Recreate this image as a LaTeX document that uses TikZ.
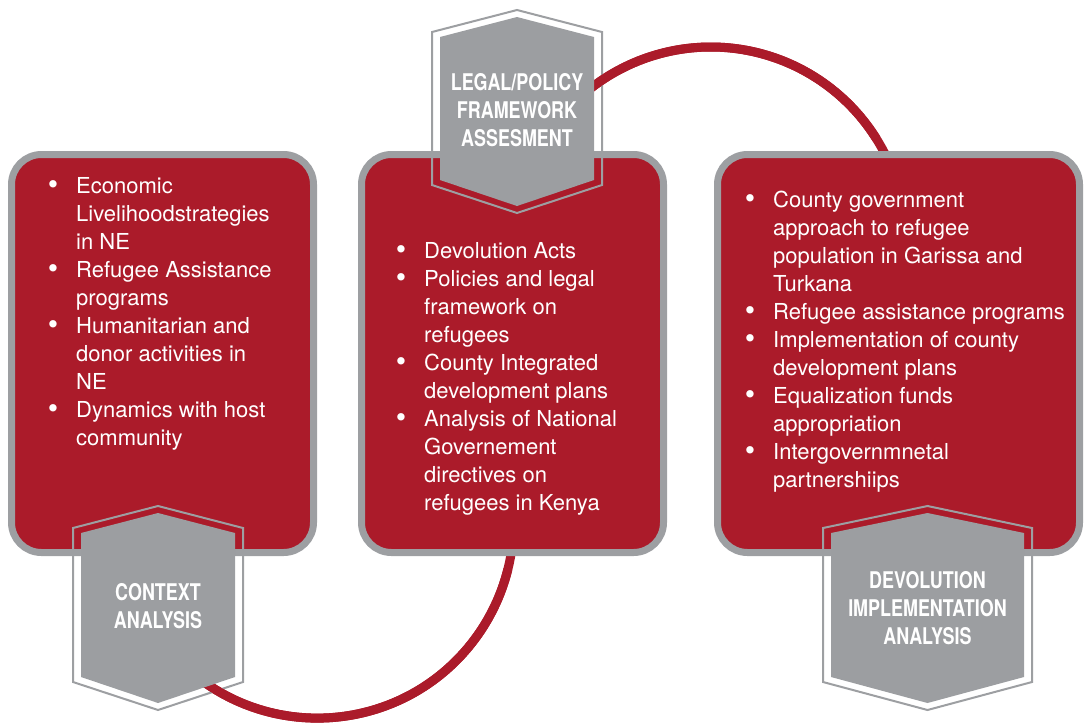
\documentclass[tikz,border=0pt]{standalone}
\usepackage{fontspec}
\setmainfont{TeX Gyre Heros}
\newfontfamily\badgefont[FakeStretch=0.78]{TeX Gyre Heros}
\definecolor{boxred}{HTML}{AB1B2A}
\definecolor{framegray}{HTML}{9D9FA2}
\definecolor{badgegray}{HTML}{9C9EA1}
% bullet hung to the left of an item's first line
\newcommand\itembul{\llap{\raisebox{-1pt}{\scalebox{1.35}{\textbullet}}\hspace{18pt}}}
% outline and inner plate of a badge: centre x, top y, bottom y, half width
\newcommand\badgeoutline[4]{%
  \draw[hexline] (#1,#2) -- (#1-#4,#2+22) -- (#1-#4,#3-28) -- (#1,#3)
    -- (#1+#4,#3-28) -- (#1+#4,#2+22) -- cycle;}
\newcommand\badgeplate[4]{%
  \fill[badgegray] (#1,#2+7) -- (#1-#4+8,#2+27) -- (#1-#4+8,#3-33) -- (#1,#3-7)
    -- (#1+#4-8,#3-33) -- (#1+#4-8,#2+27) -- cycle;}
\begin{document}
\begin{tikzpicture}[x=1pt,y=-1pt,
  panel/.style={draw=framegray, line width=7pt, fill=boxred, rounded corners=30pt},
  loop/.style={draw=boxred, line width=9pt},
  hexline/.style={draw=framegray, line width=2pt, line join=miter},
  itemtext/.style={anchor=north west, inner sep=0pt, align=left, text=white,
    font=\fontsize{22}{28}\selectfont},
  badgetext/.style={align=center, inner sep=0pt, text=white,
    font=\badgefont\bfseries\fontsize{23}{28}\selectfont}]
\useasboundingbox (0,0) rectangle (1085,724);

% centres and start points of the two connecting arcs
\coordinate (upperc) at (710.8,242.3);
\coordinate (lowerc) at (317.4,521.8);
\coordinate (upperA) at ([shift={(-135:195.3)}]upperc);
\coordinate (lowerA) at ([shift={(130:196.3)}]lowerc);

% arcs, running under the panels
\draw[loop] (upperA) arc[start angle=-135, end angle=-20, radius=195.3];
\draw[loop] (lowerA) arc[start angle=130, end angle=0, radius=196.3];

% the three panels
\path[panel] (11.5,154.5) rectangle (313.5,552.5);
\path[panel] (361.5,154.5) rectangle (663.5,552.5);
\path[panel] (717.5,154.5) rectangle (1079.5,552.5);

% badge outlines
\badgeoutline{517}{10}{213}{85}
\badgeoutline{158}{506}{710}{85}
\badgeoutline{927.5}{506}{710}{104.5}

% arc parts outside the panels, over the outlines
\draw[loop] (upperA) arc[start angle=-135, end angle=-32, radius=195.3];
\draw[loop] (lowerA) arc[start angle=130, end angle=14, radius=196.3];

% badge plates
\badgeplate{517}{10}{213}{85}
\badgeplate{158}{506}{710}{85}
\badgeplate{927.5}{506}{710}{104.5}

% panel texts
\node[itemtext] (ctxtext) at (76,177) {\itembul Economic\\
Livelihoodstrategies\\
in NE\\
\itembul Refugee Assistance\\
programs\\
\itembul Humanitarian and\\
donor activities in\\
NE\\
\itembul Dynamics with host\\
community};

\node[itemtext] (legtext) at (424,242) {\itembul Devolution Acts\\
\itembul Policies and legal\\
framework on\\
refugees\\
\itembul County Integrated\\
development plans\\
\itembul Analysis of National\\
Governement\\
directives on\\
refugees in Kenya};

\node[itemtext] (devtext) at (773,191) {\itembul County government\\
approach to refugee\\
population in Garissa and\\
Turkana\\
\itembul Refugee assistance programs\\
\itembul Implementation of county\\
development plans\\
\itembul Equalization funds\\
appropriation\\
\itembul Intergovernmnetal\\
partnershiips};

% badge labels
\node[badgetext] (legalbadge) at (517,110) {LEGAL/POLICY\\FRAMEWORK\\ASSESMENT};
\node[badgetext] (contextbadge) at (158,606) {CONTEXT\\ANALYSIS};
\node[badgetext] (devbadge) at (927.5,608) {DEVOLUTION\\IMPLEMENTATION\\ANALYSIS};
\end{tikzpicture}
\end{document}
